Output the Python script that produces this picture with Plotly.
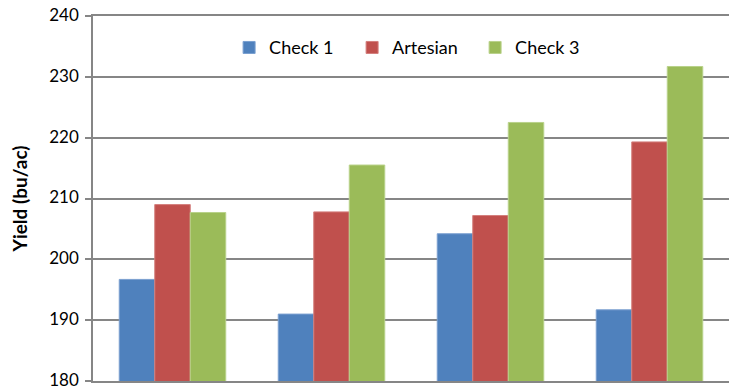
import plotly.graph_objects as go

categories = ["1", "2", "3", "4"]
series_names = ["Check 1", "Artesian", "Check 3"]
check1 = [196.7, 191.0, 204.2, 191.7]
artesian = [209.0, 207.8, 207.2, 219.3]
check3 = [207.7, 215.5, 222.5, 231.7]
y_ticks = [180, 190, 200, 210, 220, 230, 240]

colors = ["#4F81BD", "#C0504D", "#9BBB59"]
edges = ["#7A9FD0", "#D47F7D", "#B9D28A"]

fig = go.Figure()
for name, vals, c, e in zip(series_names, [check1, artesian, check3], colors, edges):
    fig.add_trace(go.Bar(
        x=categories, y=vals, name=name,
        marker=dict(color=c, line=dict(color=e, width=1)),
    ))

fig.update_layout(
    width=729, height=390,
    margin=dict(l=93, r=0, t=16, b=9),
    paper_bgcolor="white", plot_bgcolor="white",
    barmode="group", bargap=0.33, bargroupgap=0,
    font=dict(family="Lato, 'Open Sans', sans-serif", size=18, color="#000000"),
    showlegend=True,
    legend=dict(
        orientation="h", x=0.214, xanchor="left", y=0.913, yanchor="middle",
        font=dict(size=18), bgcolor="rgba(0,0,0,0)",
        itemwidth=30, entrywidth=78, traceorder="normal",
    ),
    xaxis=dict(
        showticklabels=False, showgrid=False, zeroline=False,
        showline=True, mirror=True, linecolor="#868686", linewidth=1.5, ticks="",
    ),
    yaxis=dict(
        range=[180, 240], tickvals=y_ticks, ticktext=[str(t) for t in y_ticks],
        showgrid=True, gridcolor="#868686", gridwidth=1.5,
        showline=True, linecolor="#868686", linewidth=1.5,
        ticks="outside", ticklen=6, tickcolor="#868686", tickwidth=1.5,
        zeroline=False, tickfont=dict(size=17), automargin=False,
        ticklabeloverflow="allow", ticklabelstandoff=3, ticklabelshift=-1,
        title=dict(text="<b>Yield (bu/ac)</b>", font=dict(size=19), standoff=17),
    ),
)

fig.write_html("out.html")
